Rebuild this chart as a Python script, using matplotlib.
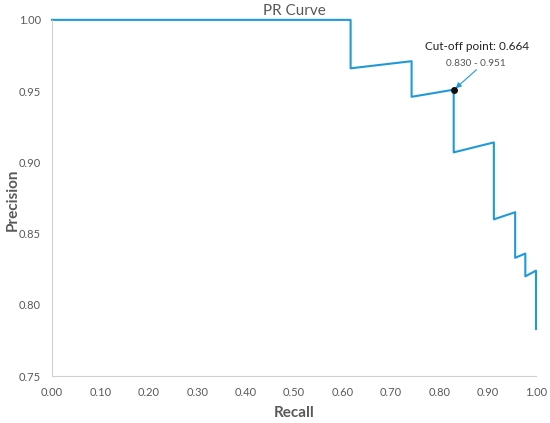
import numpy as np
import matplotlib.pyplot as plt

plt.rcParams['font.family'] = ['Lato', 'DejaVu Sans']

# step-wise PR curve
recall = [0.0, 0.617, 0.617, 0.743, 0.743, 0.830, 0.830, 0.913, 0.913, 0.957, 0.957, 0.978, 0.978, 1.0, 1.0]
precision = [1.0, 1.0, 0.966, 0.971, 0.946, 0.951, 0.907, 0.914, 0.860, 0.865, 0.833, 0.836, 0.820, 0.824, 0.783]

cut_recall = 0.830
cut_precision = 0.951
cut_label = "Cut-off point: 0.664"

xticks = np.arange(0, 1.01, 0.1)
yticks = np.arange(0.75, 1.001, 0.05)

fig = plt.figure(figsize=(5.5, 4.23), dpi=100)
ax = fig.add_axes([0.0945, 0.111, 0.88, 0.842])

blue = '#1f9ad8'
ax.plot(recall, precision, color=blue, lw=1.5, clip_on=False)
ax.plot([cut_recall], [cut_precision], 'o', color='#111111', ms=4, zorder=5)

ax.annotate("", xy=(cut_recall + 0.004, cut_precision + 0.001),
            xytext=(0.877, 0.965),
            arrowprops=dict(arrowstyle='-|>', color=blue, lw=0.8, mutation_scale=8,
                            shrinkA=0, shrinkB=0))
ax.text(0.878, 0.9813, cut_label, ha='center', va='center', fontsize=8.5, color='#222222')
ax.text(0.876, 0.9696, "0.830 - 0.951", ha='center', va='center', fontsize=7.2, color='#555555')

ax.set_xlim(0, 1)
ax.set_ylim(0.75, 1.0)
ax.set_xticks(xticks)
ax.set_yticks(yticks)
ax.set_xticklabels([f"{v:.2f}" for v in xticks])
ax.set_yticklabels([f"{v:.2f}" for v in yticks])
ax.tick_params(length=0, labelsize=8, colors='#595959', pad=8)

for s in ['top', 'right']:
    ax.spines[s].set_visible(False)
for s in ['left', 'bottom']:
    ax.spines[s].set_color('#d0d0d0')
    ax.spines[s].set_linewidth(0.8)

ax.set_xlabel("Recall", fontsize=11, fontweight='bold', color='#595959', labelpad=6)
fig.text(0.024, 0.527, "Precision", rotation=90, ha='center', va='center',
         fontsize=11, fontweight='bold', color='#595959')
fig.text(0.535, 0.975, "PR Curve", ha='center', va='center', fontsize=11, color='#595959')

plt.savefig("out.png", dpi=100)
